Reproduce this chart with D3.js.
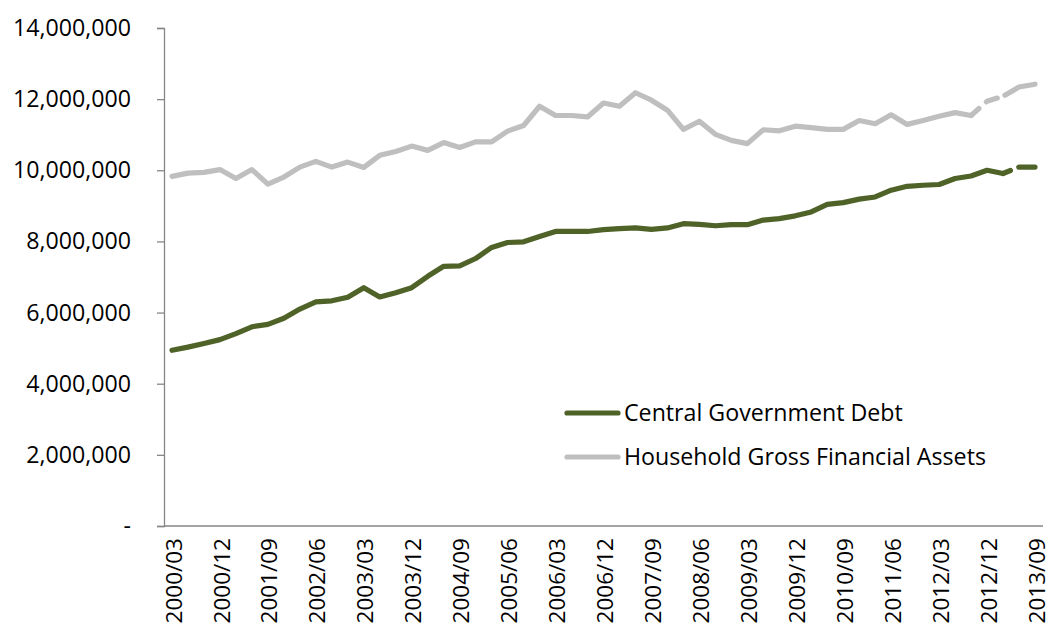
<!DOCTYPE html>
<html>
<head>
<meta charset="utf-8">
<script src="https://cdn.jsdelivr.net/npm/d3@7"></script>
<style>
  html, body { margin: 0; padding: 0; background: #fff; }
  svg text { font-family: "Open Sans", Lato, sans-serif; fill: #000; }
</style>
</head>
<body>
<svg id="chart" width="1047" height="632"></svg>
<script>
// Quarterly observations, 2000/03 to 2013/09
const quarters = [
  "2000/03","2000/06","2000/09","2000/12","2001/03","2001/06","2001/09","2001/12",
  "2002/03","2002/06","2002/09","2002/12","2003/03","2003/06","2003/09","2003/12",
  "2004/03","2004/06","2004/09","2004/12","2005/03","2005/06","2005/09","2005/12",
  "2006/03","2006/06","2006/09","2006/12","2007/03","2007/06","2007/09","2007/12",
  "2008/03","2008/06","2008/09","2008/12","2009/03","2009/06","2009/09","2009/12",
  "2010/03","2010/06","2010/09","2010/12","2011/03","2011/06","2011/09","2011/12",
  "2012/03","2012/06","2012/09","2012/12","2013/03","2013/06","2013/09"
];

// Labels shown on the category axis (every third quarter)
const tickLabels = [
  "2000/03","2000/12","2001/09","2002/06","2003/03","2003/12","2004/09",
  "2005/06","2006/03","2006/12","2007/09","2008/06","2009/03","2009/12",
  "2010/09","2011/06","2012/03","2012/12","2013/09"
];

const yTicks = [0, 2000000, 4000000, 6000000, 8000000, 10000000, 12000000, 14000000];

const centralGovernmentDebt = [
  4940000, 5030000, 5130000, 5240000, 5410000, 5600000, 5670000, 5840000,
  6100000, 6300000, 6330000, 6430000, 6700000, 6440000, 6560000, 6700000,
  7020000, 7300000, 7310000, 7520000, 7830000, 7970000, 7990000, 8140000,
  8280000, 8280000, 8280000, 8330000, 8360000, 8380000, 8340000, 8380000,
  8500000, 8480000, 8440000, 8470000, 8470000, 8600000, 8640000, 8720000,
  8830000, 9040000, 9090000, 9190000, 9250000, 9440000, 9550000, 9580000,
  9600000, 9770000, 9840000, 10000000, 9910000, 10090000, 10090000
];

const householdGrossFinancialAssets = [
  9830000, 9920000, 9940000, 10020000, 9770000, 10020000, 9610000, 9810000,
  10090000, 10250000, 10090000, 10230000, 10080000, 10420000, 10530000, 10680000,
  10560000, 10780000, 10640000, 10800000, 10800000, 11100000, 11260000, 11800000,
  11540000, 11540000, 11500000, 11890000, 11800000, 12180000, 11970000, 11690000,
  11150000, 11380000, 11010000, 10840000, 10750000, 11140000, 11110000, 11240000,
  11200000, 11150000, 11150000, 11400000, 11310000, 11560000, 11290000, 11400000,
  11520000, 11620000, 11540000, 11940000, 12080000, 12340000, 12420000
];

const seriesNames = ["Central Government Debt", "Household Gross Financial Assets"];
const seriesColors = ["#4f6228", "#bfbfbf"];

const svg = d3.select("#chart");
const plot = { left: 164, right: 1043, top: 28, bottom: 526 };

const x = d3.scalePoint().domain(quarters).range([172, 1035]);
const y = d3.scaleLinear().domain([0, 14000000]).range([plot.bottom, plot.top]);

// Value axis
const yAxis = d3.axisLeft(y)
  .tickValues(yTicks)
  .tickSize(7)
  .tickPadding(26)
  .tickFormat(d => d === 0 ? "-" : d3.format(",")(d));
const gy = svg.append("g").attr("transform", `translate(${plot.left},0)`).call(yAxis);
gy.select(".domain").attr("stroke", "#868686").attr("stroke-width", 1.3);
gy.selectAll(".tick line").attr("stroke", "#868686").attr("stroke-width", 1.3);
gy.selectAll(".tick text").style("font-size", "23.2px").attr("fill", "#000");

// Category axis
const xAxis = d3.axisBottom(x).tickValues(tickLabels).tickSize(0).tickPadding(0);
const gx = svg.append("g").attr("transform", `translate(0,${plot.bottom})`).call(xAxis);
gx.select(".domain").attr("d", `M${plot.left},0H${plot.right}`).attr("stroke", "#868686").attr("stroke-width", 1.3);
gx.selectAll(".tick text")
  .style("font-size", "22.5px")
  .attr("fill", "#000")
  .attr("text-anchor", "end")
  .attr("transform", "rotate(-90)")
  .attr("x", -12)
  .attr("y", 1)
  .attr("dy", "0.36em");

const line = d3.line().x((d, i) => x(quarters[i])).y(d => y(d));
const lineFrom = (start) => d3.line()
  .x((d, i) => x(quarters[i + start]))
  .y(d => y(d));

// Each series: solid body, then a broken tail for the most recent quarters
const series = [
  { values: centralGovernmentDebt, tailStart: 52, dash: "8,9,300" },
  { values: householdGrossFinancialAssets, tailStart: 50, dash: "10.5,10,11.6,8.2,300" }
];

series.slice().reverse().forEach((s, k) => {
  const idx = series.length - 1 - k;
  const g = svg.append("g");
  g.append("path")
    .attr("d", line(s.values.slice(0, s.tailStart + 1)))
    .attr("fill", "none")
    .attr("stroke", seriesColors[idx])
    .attr("stroke-width", 5.2)
    .attr("stroke-linejoin", "round")
    .attr("stroke-linecap", "round");
  g.append("path")
    .attr("d", lineFrom(s.tailStart)(s.values.slice(s.tailStart)))
    .attr("fill", "none")
    .attr("stroke", seriesColors[idx])
    .attr("stroke-width", 5.2)
    .attr("stroke-linejoin", "round")
    .attr("stroke-linecap", "round")
    .attr("stroke-dasharray", s.dash);
});

// Legend
const legend = svg.append("g").attr("transform", "translate(567,413)");
seriesNames.forEach((name, i) => {
  const row = legend.append("g").attr("transform", `translate(0,${i * 44})`);
  row.append("line")
    .attr("x1", 0).attr("x2", 51)
    .attr("stroke", seriesColors[i])
    .attr("stroke-width", 5.2)
    .attr("stroke-linecap", "round");
  row.append("text")
    .attr("x", 57)
    .attr("dy", "0.36em")
    .style("font-size", "23.2px")
    .text(name);
});
</script>
</body>
</html>
